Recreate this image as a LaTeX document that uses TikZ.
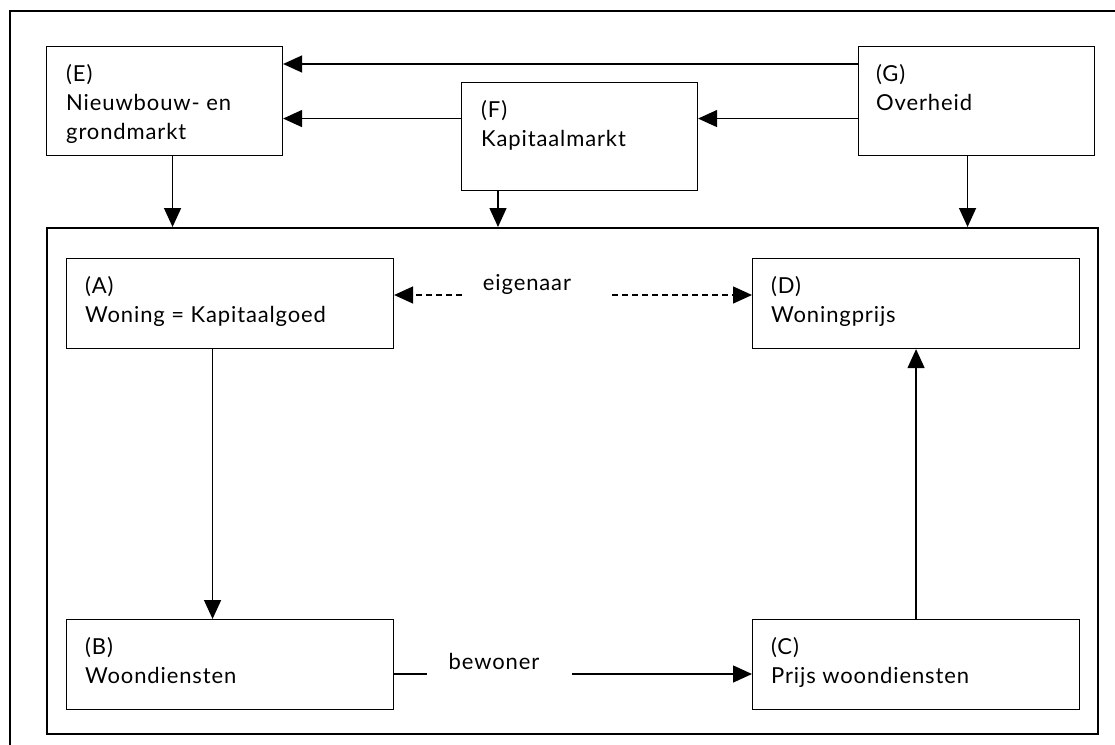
\documentclass[tikz,border=0pt]{standalone}
\usetikzlibrary{arrows.meta,calc}
\usepackage{fontspec}
\setmainfont{Lato}[LetterSpace=4]
\begin{document}
\begin{tikzpicture}[x=1pt,y=-1pt,
  box/.style={draw, line width=1.1pt, rectangle, inner sep=0pt, anchor=north west},
  lbl/.style={anchor=north west, inner sep=0pt, align=left, font=\fontsize{22}{29}\selectfont},
  word/.style={anchor=base, inner sep=0pt, font=\fontsize{22}{29}\selectfont},
  arr/.style={line width=1.4pt, -{Triangle[length=19pt,width=17pt]}},
  dsh/.style={dash pattern=on 6pt off 4pt}]
\useasboundingbox (0,0) rectangle (1115,744);
% outer frame (cropped)
\draw[line width=1.8pt] (10,770) -- (10,11) -- (1140,11);
% top boxes
\node[box, minimum width=236pt, minimum height=109pt] (E) at (46,46) {};
\node[box, minimum width=236pt, minimum height=108pt] (F) at (461,82) {};
\node[box, minimum width=236pt, minimum height=109pt] (G) at (858,46) {};
\node[lbl] (Et) at (66,64) {(E)\\Nieuwbouw- en\\grondmarkt};
\node[lbl] (Ft) at (481,100) {(F)\\Kapitaalmarkt};
\node[lbl] (Gt) at (876,64) {(G)\\Overheid};
% inner market box
\node[box, line width=2pt, minimum width=1051pt, minimum height=506pt] (M) at (46,227) {};
% inner boxes
\node[box, minimum width=327pt, minimum height=90pt] (A) at (66,258) {};
\node[box, minimum width=327pt, minimum height=90pt] (D) at (752,258) {};
\node[box, minimum width=327pt, minimum height=90pt] (B) at (66,619) {};
\node[box, minimum width=327pt, minimum height=90pt] (C) at (752,619) {};
\node[lbl] (At) at (85,276) {(A)\\Woning = Kapitaalgoed};
\node[lbl] (Dt) at (771,276) {(D)\\Woningprijs};
\node[lbl] (Bt) at (85,637) {(B)\\Woondiensten};
\node[lbl] (Ct) at (771,637) {(C)\\Prijs woondiensten};
% top connectors
\draw[arr] ([yshift=-18pt]G.north west) -- ([yshift=-18pt]G.north west -| E.east);
\draw[arr] ([yshift=-17.5pt]G.west) -- ([yshift=-17.5pt]G.west -| F.east);
\draw[arr] ([yshift=18pt]F.west) -- ([yshift=18pt]F.west -| E.east);
\draw[arr] ([xshift=8pt]E.south) -- ([xshift=8pt]E.south |- M.north);
\draw[arr] ([xshift=37pt]F.south west) -- ([xshift=37pt]F.south west |- M.north);
\draw[arr] ([xshift=-9pt]G.south) -- ([xshift=-9pt]G.south |- M.north);
% inner connectors
\draw[arr] ([xshift=-17.5pt]A.south) -- ([xshift=-17.5pt]A.south |- B.north);
\draw[arr] (C.north) -- (C.north |- D.south);
% eigenaar
\node[word] (eig) at (527,290) {eigenaar};
\coordinate (e1) at (462,295);
\coordinate (e2) at (612,295);
\draw[arr, dsh] (e1) -- (e1 -| A.east);
\draw[arr, dsh] (e2) -- (e2 -| D.west);
% bewoner
\node[word] (bew) at (494,669) {bewoner};
\coordinate (b1) at (427,674);
\coordinate (b2) at (572,674);
\draw[line width=1.4pt] (b1 -| B.east) -- (b1);
\draw[arr] (b2) -- (b2 -| C.west);
\end{tikzpicture}
\end{document}
